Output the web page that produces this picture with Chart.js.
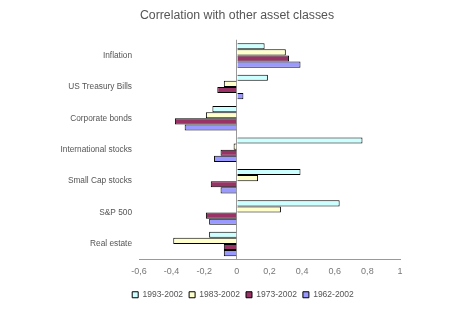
<!DOCTYPE html>
<html><head><meta charset="utf-8">
<script src="https://cdn.jsdelivr.net/npm/chart.js@4"></script>
<style>html,body{margin:0;padding:0;background:#fff;}canvas{display:block;}</style>
</head><body>
<canvas id="c" width="460" height="322"></canvas>
<script>
const categories = ['Inflation','US Treasury Bills','Corporate bonds','International stocks','Small Cap stocks','S&P 500','Real estate'];
const s1993 = [0.17, 0.19, -0.15, 0.77, 0.39, 0.63, -0.17];
const s1983 = [0.30, -0.08, -0.19, -0.02, 0.13, 0.27, -0.39];
const s1973 = [0.32, -0.12, -0.38, -0.10, -0.16, -0.19, -0.08];
const s1962 = [0.39, 0.04, -0.32, -0.14, -0.10, -0.17, -0.08];
const seriesNames = ['1993-2002','1983-2002','1973-2002','1962-2002'];
const colors = ['#CCFFFF','#FFFFCC','#993366','#9999FF'];
const seriesData = [s1993, s1983, s1973, s1962];

Chart.defaults.font.family = '"Liberation Sans", Arial, sans-serif';
Chart.defaults.color = '#555';

const shiftBlocks = {
  id: 'shiftBlocks',
  afterLayout(chart) {
    if (chart.titleBlock) chart.titleBlock.left = 74;
    if (chart.legend) chart.legend.left = 86;
  }
};

new Chart(document.getElementById('c'), {
  type: 'bar',
  data: {
    labels: categories,
    datasets: seriesData.map((d, i) => ({
      label: seriesNames[i], data: d, backgroundColor: colors[i],
      borderColor: '#000', borderWidth: 1, barPercentage: 1, categoryPercentage: 0.78
    }))
  },
  plugins: [shiftBlocks],
  options: {
    indexAxis: 'y', responsive: false, animation: false,
    layout: { padding: { left: 0, right: 60, top: 0, bottom: 13 } },
    plugins: {
      title: { display: true, text: 'Correlation with other asset classes', font: { size: 12.3, weight: 'normal' }, color: '#555', padding: { top: 8, bottom: 17 } },
      legend: { position: 'bottom', labels: { boxWidth: 6, boxHeight: 6, font: { size: 8.5 }, padding: 6, color: '#555' } },
      tooltip: { enabled: false }
    },
    scales: {
      x: {
        min: -0.6, max: 1,
        ticks: { stepSize: 0.2, font: { size: 9 }, color: '#777', padding: 6,
          callback: v => { const r = Math.round(v * 10) / 10; return r === 0 ? '0' : String(r).replace('.', ','); } },
        grid: { drawTicks: false, color: ctx => (ctx.tick && Math.abs(ctx.tick.value) < 1e-9) ? '#999' : 'rgba(0,0,0,0)', lineWidth: 1 },
        border: { display: true, color: '#999' },
        afterFit: s => { s.height += 2; }
      },
      y: {
        ticks: { font: { size: 8.3 }, color: '#555', padding: 7 },
        grid: { display: false, drawTicks: false },
        border: { display: false },
        afterFit: s => { s.width = 139; }
      }
    }
  }
});
</script>
</body></html>
